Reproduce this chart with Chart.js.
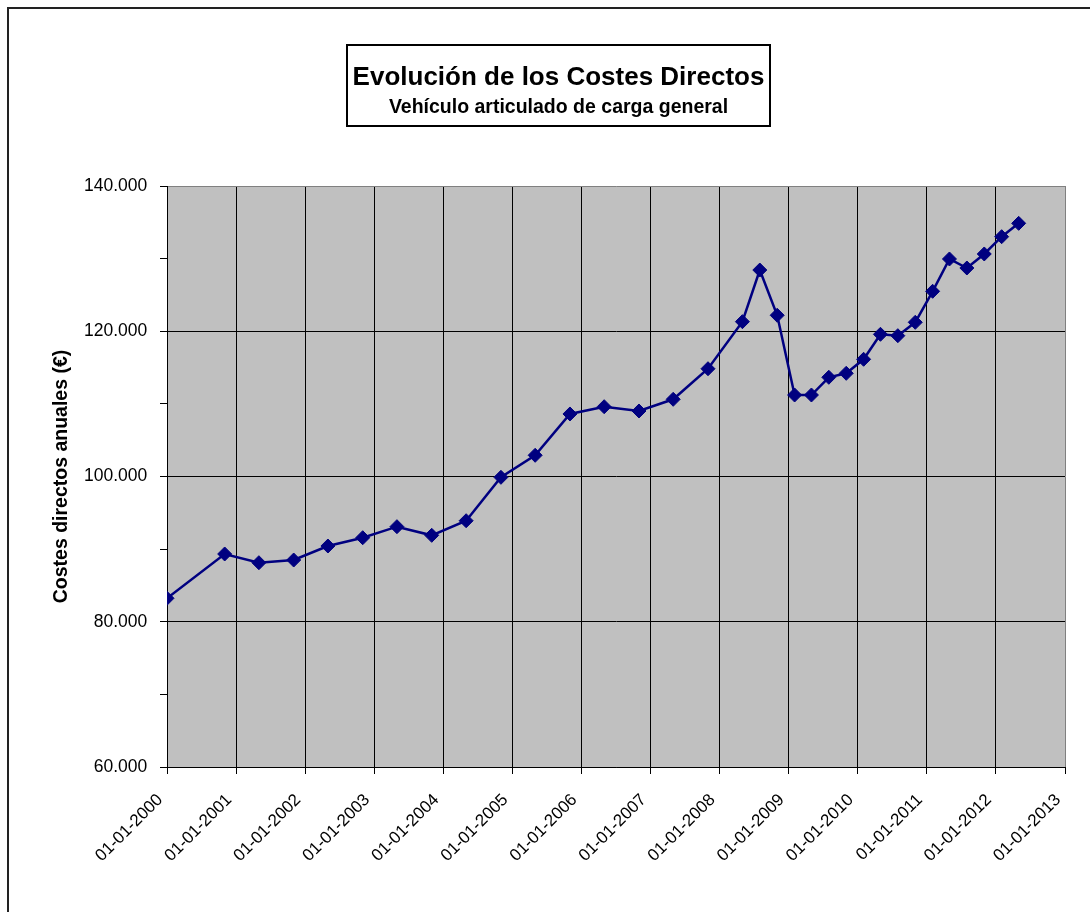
<!DOCTYPE html>
<html>
<head>
<meta charset="utf-8">
<script src="https://cdn.jsdelivr.net/npm/chart.js@4/dist/chart.umd.min.js"></script>
<style>
html,body{margin:0;padding:0;background:#fff;}
#wrap{width:1090px;height:912px;position:relative;}
canvas{display:block;}
</style>
</head>
<body>
<div id="wrap"><canvas id="c" width="1090" height="912"></canvas></div>
<script>
const titleText = 'Evolución de los Costes Directos';
const subtitleText = 'Vehículo articulado de carga general';
const yAxisTitle = 'Costes directos anuales (€)';

const dates = [
  '2000-01-01','2000-11-01','2001-05-01','2001-11-01','2002-05-01','2002-11-01',
  '2003-05-01','2003-11-01','2004-05-01','2004-11-01','2005-05-01','2005-11-01',
  '2006-05-01','2006-11-01','2007-05-01','2007-11-01','2008-05-01','2008-08-01',
  '2008-11-01','2009-02-01','2009-05-01','2009-08-01','2009-11-01','2010-02-01',
  '2010-05-01','2010-08-01','2010-11-01','2011-02-01','2011-05-01','2011-08-01',
  '2011-11-01','2012-02-01','2012-05-01'
];
const costs = [
  83230, 89330, 88130, 88500, 90430, 91570,
  93090, 91900, 93910, 99890, 102920, 108610,
  109610, 109020, 110630, 114840, 121320, 128430,
  122200, 111220, 111220, 113660, 114210, 116140,
  119580, 119390, 121230, 125500, 129950, 128710,
  130640, 133020, 134860
];
const tickYears = [2000,2001,2002,2003,2004,2005,2006,2007,2008,2009,2010,2011,2012,2013];
const yMin = 60000, yMax = 140000, yStep = 10000, yLabelStep = 20000;

function toMs(s){ const p = s.split('-').map(Number); return Date.UTC(p[0], p[1]-1, p[2]); }
function fmtDate(ms){
  const d = new Date(ms);
  const dd = String(d.getUTCDate()).padStart(2,'0');
  const mm = String(d.getUTCMonth()+1).padStart(2,'0');
  return dd + '-' + mm + '-' + d.getUTCFullYear();
}
function fmtNum(v){ return Math.round(v/1000) + '.000'; }

const points = dates.map((d,i) => ({x: toMs(d), y: costs[i]}));
const xMin = Date.UTC(tickYears[0],0,1);
const xMax = Date.UTC(tickYears[tickYears.length-1],0,1);
const FONT = "'Liberation Sans', Arial, Helvetica, sans-serif";

const decor = {
  id: 'decor',
  beforeDraw(chart){
    const ctx = chart.ctx, a = chart.chartArea;
    ctx.save();
    ctx.fillStyle = '#fff';
    ctx.fillRect(0,0,chart.width,chart.height);
    ctx.fillStyle = '#C0C0C0';
    ctx.fillRect(a.left, a.top, a.right - a.left, a.bottom - a.top);
    ctx.strokeStyle = '#222';
    ctx.lineWidth = 2;
    ctx.strokeRect(8, 8, chart.width + 20, chart.height + 20);
    ctx.restore();
  },
  afterDraw(chart){
    const ctx = chart.ctx;
    ctx.save();
    ctx.fillStyle = '#fff';
    ctx.strokeStyle = '#000';
    ctx.lineWidth = 2;
    ctx.fillRect(347, 45, 423, 81);
    ctx.strokeRect(347, 45, 423, 81);
    ctx.fillStyle = '#000';
    ctx.textAlign = 'center';
    ctx.textBaseline = 'alphabetic';
    ctx.font = 'bold 26px ' + FONT;
    ctx.fillText(titleText, 558.5, 85);
    ctx.font = 'bold 19.5px ' + FONT;
    ctx.fillText(subtitleText, 558.5, 113);
    ctx.restore();
  }
};

new Chart(document.getElementById('c'), {
  type: 'line',
  data: {
    datasets: [{
      data: points,
      borderColor: '#000080',
      backgroundColor: '#000080',
      borderWidth: 2.5,
      pointStyle: 'rectRot',
      pointRadius: 7,
      pointHoverRadius: 7,
      pointBorderWidth: 1,
      pointBorderColor: '#000080',
      pointBackgroundColor: '#000080',
      tension: 0,
      fill: false
    }]
  },
  options: {
    responsive: false,
    animation: false,
    devicePixelRatio: 1,
    layout: { padding: { top: 186, right: 25, left: 0, bottom: 0 } },
    plugins: { legend: { display: false }, tooltip: { enabled: false }, title: { display: false } },
    scales: {
      x: {
        type: 'linear',
        min: xMin,
        max: xMax,
        afterBuildTicks: s => { s.ticks = tickYears.map(y => ({ value: Date.UTC(y,0,1) })); },
        afterFit: s => { s.height = 145; s.paddingRight = 0; },
        ticks: {
          autoSkip: false,
          maxRotation: 45,
          minRotation: 45,
          padding: 16,
          labelOffset: -7,
          color: '#000',
          font: { family: FONT, size: 17 },
          callback: v => fmtDate(v)
        },
        grid: {
          color: c => (c.tick && c.tick.value === xMax) ? '#808080' : '#000',
          lineWidth: 1,
          drawTicks: true,
          tickLength: 7,
          tickColor: '#000'
        },
        border: { color: '#000', width: 1 }
      },
      y: {
        min: yMin,
        max: yMax,
        afterFit: s => { s.width = 167; },
        ticks: {
          stepSize: yStep,
          padding: 12.7,
          color: '#000',
          font: { family: FONT, size: 17.5 },
          callback: v => (v % yLabelStep === 0 ? fmtNum(v) : '')
        },
        grid: {
          color: c => {
            const v = c.tick ? c.tick.value : 0;
            if (v % yLabelStep !== 0) return 'rgba(0,0,0,0)';
            return v === yMax ? '#808080' : '#000';
          },
          lineWidth: 1,
          drawTicks: true,
          tickLength: 7,
          tickColor: '#000'
        },
        border: { color: '#000', width: 1 },
        title: {
          display: true,
          text: yAxisTitle,
          color: '#000',
          font: { family: FONT, size: 19.5, weight: 'bold' },
          padding: { top: 50, bottom: 0 }
        }
      }
    }
  },
  plugins: [decor]
});
</script>
</body>
</html>
